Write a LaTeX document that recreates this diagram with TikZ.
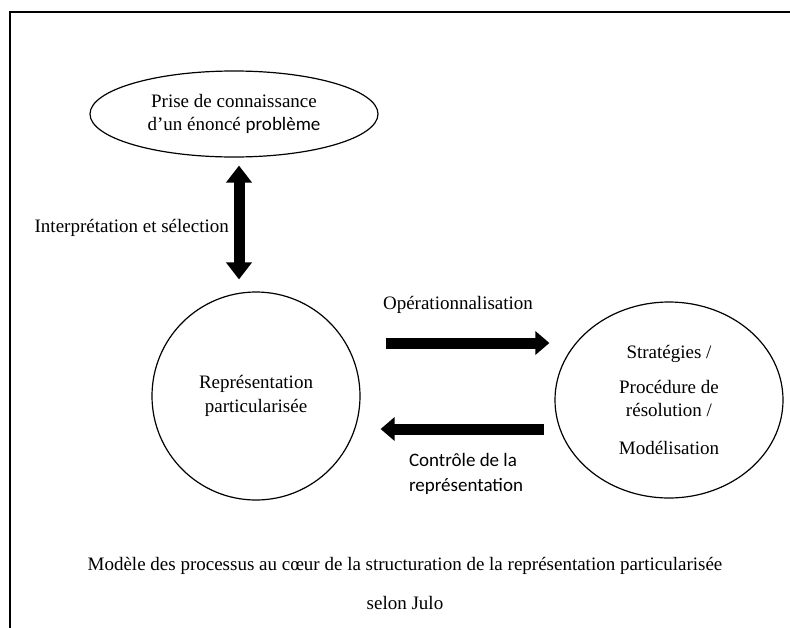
\documentclass[tikz,border=0pt]{standalone}
\usepackage{fontspec}
\setmainfont{Liberation Serif}
\newfontfamily\carl{Carlito}
\usetikzlibrary{shapes.geometric,arrows.meta}
\begin{document}
\begin{tikzpicture}[x=1pt,y=-1pt,
  txt/.style={font=\fontsize{19}{23}\selectfont, inner sep=0pt},
  shapeline/.style={draw, line width=1.2pt, inner sep=0pt, font=\fontsize{19}{23}\selectfont, align=center},
  fatarrow/.style={line width=11pt, -{Triangle[width=23pt,length=14pt]}},
  fatdouble/.style={line width=11pt, {Triangle[width=25pt,length=17pt]}-{Triangle[width=25pt,length=17pt]}}]
\useasboundingbox (0,0) rectangle (790,627);
\clip (0,0) rectangle (790,627);
% frame
\draw[line width=2pt] (10,640) -- (10,12) -- (800,12);
% shapes
\node[shapeline, ellipse, minimum width=288pt, minimum height=86pt] (ell) at (234,114)
  {Prise de connaissance\\d’un énoncé {\carl problème}};
\node[shapeline, circle, minimum size=208pt] (lc) at (256,396)
  {Représentation\\[1pt]particularisée};
\node[shapeline, ellipse, minimum width=228pt, minimum height=196pt] (rc) at (669,400)
  {Stratégies /\\[12pt]Procédure de\\résolution /\\[15pt]Modélisation};
% helper coordinates
\coordinate (vx) at (239,0);
\coordinate (hy1) at (0,343);
\coordinate (hy2) at (0,429);
% connectors
\draw[fatdouble, shorten <=8pt, shorten >=12pt] (ell.south -| vx) -- (lc.north -| vx);
\draw[fatarrow, shorten <=25pt, shorten >=5pt] (lc.east |- hy1) -- (rc.west |- hy1);
\draw[fatarrow, shorten <=10pt, shorten >=20pt] (rc.west |- hy2) -- (lc.east |- hy2);
% labels
\node[txt, anchor=east] (lint) at (229,228) {Interprétation et sélection};
\node[txt] (lop) at (458,305) {Opérationnalisation};
\node[txt, font=\carl\fontsize{19}{25}\selectfont, align=left] (lctl) at (466,474) {Contrôle de la\\représentation};
% caption
\node[txt] (cap1) at (405,566) {Modèle des processus au cœur de la structuration de la représentation particularisée};
\node[txt] (cap2) at (405,603) {selon Julo};
\end{tikzpicture}
\end{document}
